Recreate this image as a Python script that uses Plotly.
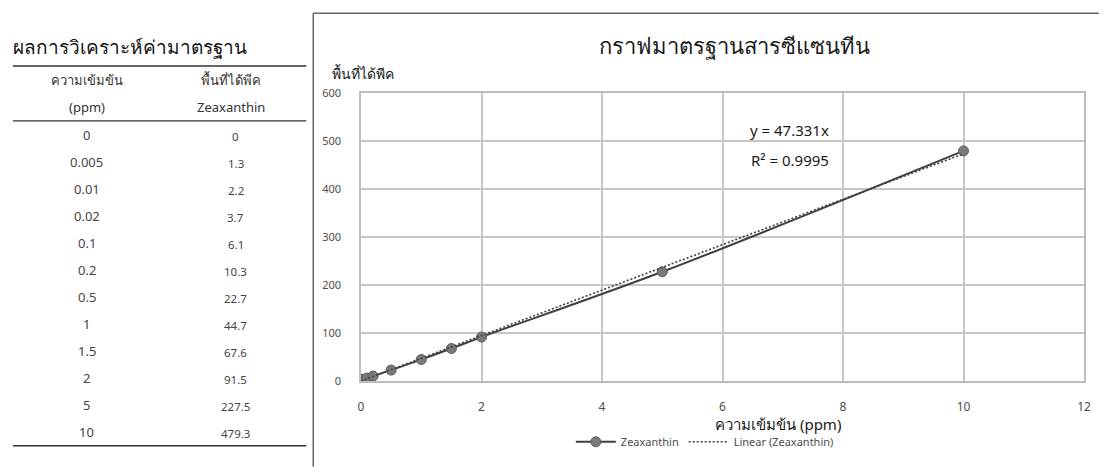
import plotly.graph_objects as go

# Standard calibration data for zeaxanthin
concentration_ppm = [0, 0.005, 0.01, 0.02, 0.1, 0.2, 0.5, 1, 1.5, 2, 5, 10]
peak_area = [0, 1.3, 2.2, 3.7, 6.1, 10.3, 22.7, 44.7, 67.6, 91.5, 227.5, 479.3]

# Linear trendline through the origin
slope = 47.331
r_squared = 0.9995

x_ticks = [0, 2, 4, 6, 8, 10, 12]
y_ticks = [0, 100, 200, 300, 400, 500, 600]

W, H = 1103, 468
L, R, T, B = 361, 15, 93, 86
PW, PH = W - L - R, H - T - B


def px(x):
    return (x - L) / PW


def py(y):
    return (H - B - y) / PH


FONT = "Noto Sans, Tahoma, sans-serif"
GRAY = "#4d4d4d"

fig = go.Figure()

fig.add_trace(go.Scatter(
    x=concentration_ppm, y=peak_area, mode="lines+markers",
    name="Zeaxanthin", line=dict(color="#404040", width=2, shape="spline"),
    marker=dict(size=10, color="#7a7a7a", line=dict(color="#5a5a5a", width=1)),
))

trend_x = [min(concentration_ppm), max(concentration_ppm)]
trend_y = [slope * v for v in trend_x]
fig.add_trace(go.Scatter(
    x=trend_x, y=trend_y, mode="lines", name="Linear (Zeaxanthin)",
    line=dict(color="#404040", width=1.6, dash="2px,2px"),
))

annotations = []
shapes = []


def label(text, x, y, size, color="#1a1a1a", anchor="center"):
    annotations.append(dict(text=text, x=px(x), y=py(y), xanchor=anchor, yanchor="middle",
                            xref="paper", yref="paper", showarrow=False,
                            font=dict(size=size, color=color, family=FONT)))


# Chart title and axis titles
label("กราฟมาตรฐานสารซีแซนทีน", 737, 45, 22)
label("พื้นที่ได้พีค", 330, 73, 14, anchor="left")
label("ความเข้มข้น (ppm)", 780, 425, 15)

# Regression equation
label(f"y = {slope}x", 792, 130, 15)
label(f"R² = {r_squared}", 792, 160, 15)

# Results table on the left
label("ผลการวิเคราะห์ค่ามาตรฐาน", 9, 47, 19, color="#111111", anchor="left")
label("ความเข้มข้น", 85, 80, 13, color="#333333")
label("(ppm)", 85, 107, 13, color="#333333")
label("พื้นที่ได้พีค", 230, 80, 13, color="#333333")
label("Zeaxanthin", 230, 107, 13, color="#333333")

for i, (c, a) in enumerate(zip(concentration_ppm, peak_area)):
    row_y = 135 + 27.1 * i
    label(str(c), 85, row_y, 13, color="#444444")
    label(str(a), 235, row_y + 2, 11.5, color="#444444")

for yy, wd in [(66, 1.5), (121, 1.2), (447, 1.5)]:
    shapes.append(dict(type="line", xref="paper", yref="paper",
                       x0=px(11), x1=px(306), y0=py(yy), y1=py(yy),
                       line=dict(color="#333333", width=wd)))

# Chart panel border
shapes.append(dict(type="line", xref="paper", yref="paper",
                   x0=px(313), x1=px(1103), y0=py(13), y1=py(13),
                   line=dict(color="#666666", width=1.5)))
shapes.append(dict(type="line", xref="paper", yref="paper",
                   x0=px(313), x1=px(313), y0=py(13), y1=py(468),
                   line=dict(color="#666666", width=1.5)))

fig.update_layout(
    width=W, height=H,
    margin=dict(l=L, r=R, t=T, b=B, pad=0),
    paper_bgcolor="white", plot_bgcolor="white",
    font=dict(family=FONT, color=GRAY),
    annotations=annotations, shapes=shapes,
    legend=dict(orientation="h", x=px(572), xanchor="left", y=py(443), yanchor="middle",
                font=dict(size=11, color=GRAY, family=FONT), itemwidth=40,
                bgcolor="rgba(0,0,0,0)"),
    xaxis=dict(range=[0, 12], tickvals=x_ticks, showgrid=True, gridcolor="#c6c6c6", gridwidth=1.5,
               showline=True, linecolor="#bdbdbd", linewidth=1.5, mirror=True, zeroline=False,
               ticks="", ticklabelstandoff=14, tickfont=dict(size=12, color=GRAY)),
    yaxis=dict(range=[0, 600], tickvals=y_ticks, showgrid=True, gridcolor="#c6c6c6", gridwidth=1.5,
               showline=True, linecolor="#bdbdbd", linewidth=1.5, mirror=True, zeroline=False,
               ticks="", ticklabelstandoff=16, tickfont=dict(size=11, color=GRAY)),
)

fig.write_html("out.html")
